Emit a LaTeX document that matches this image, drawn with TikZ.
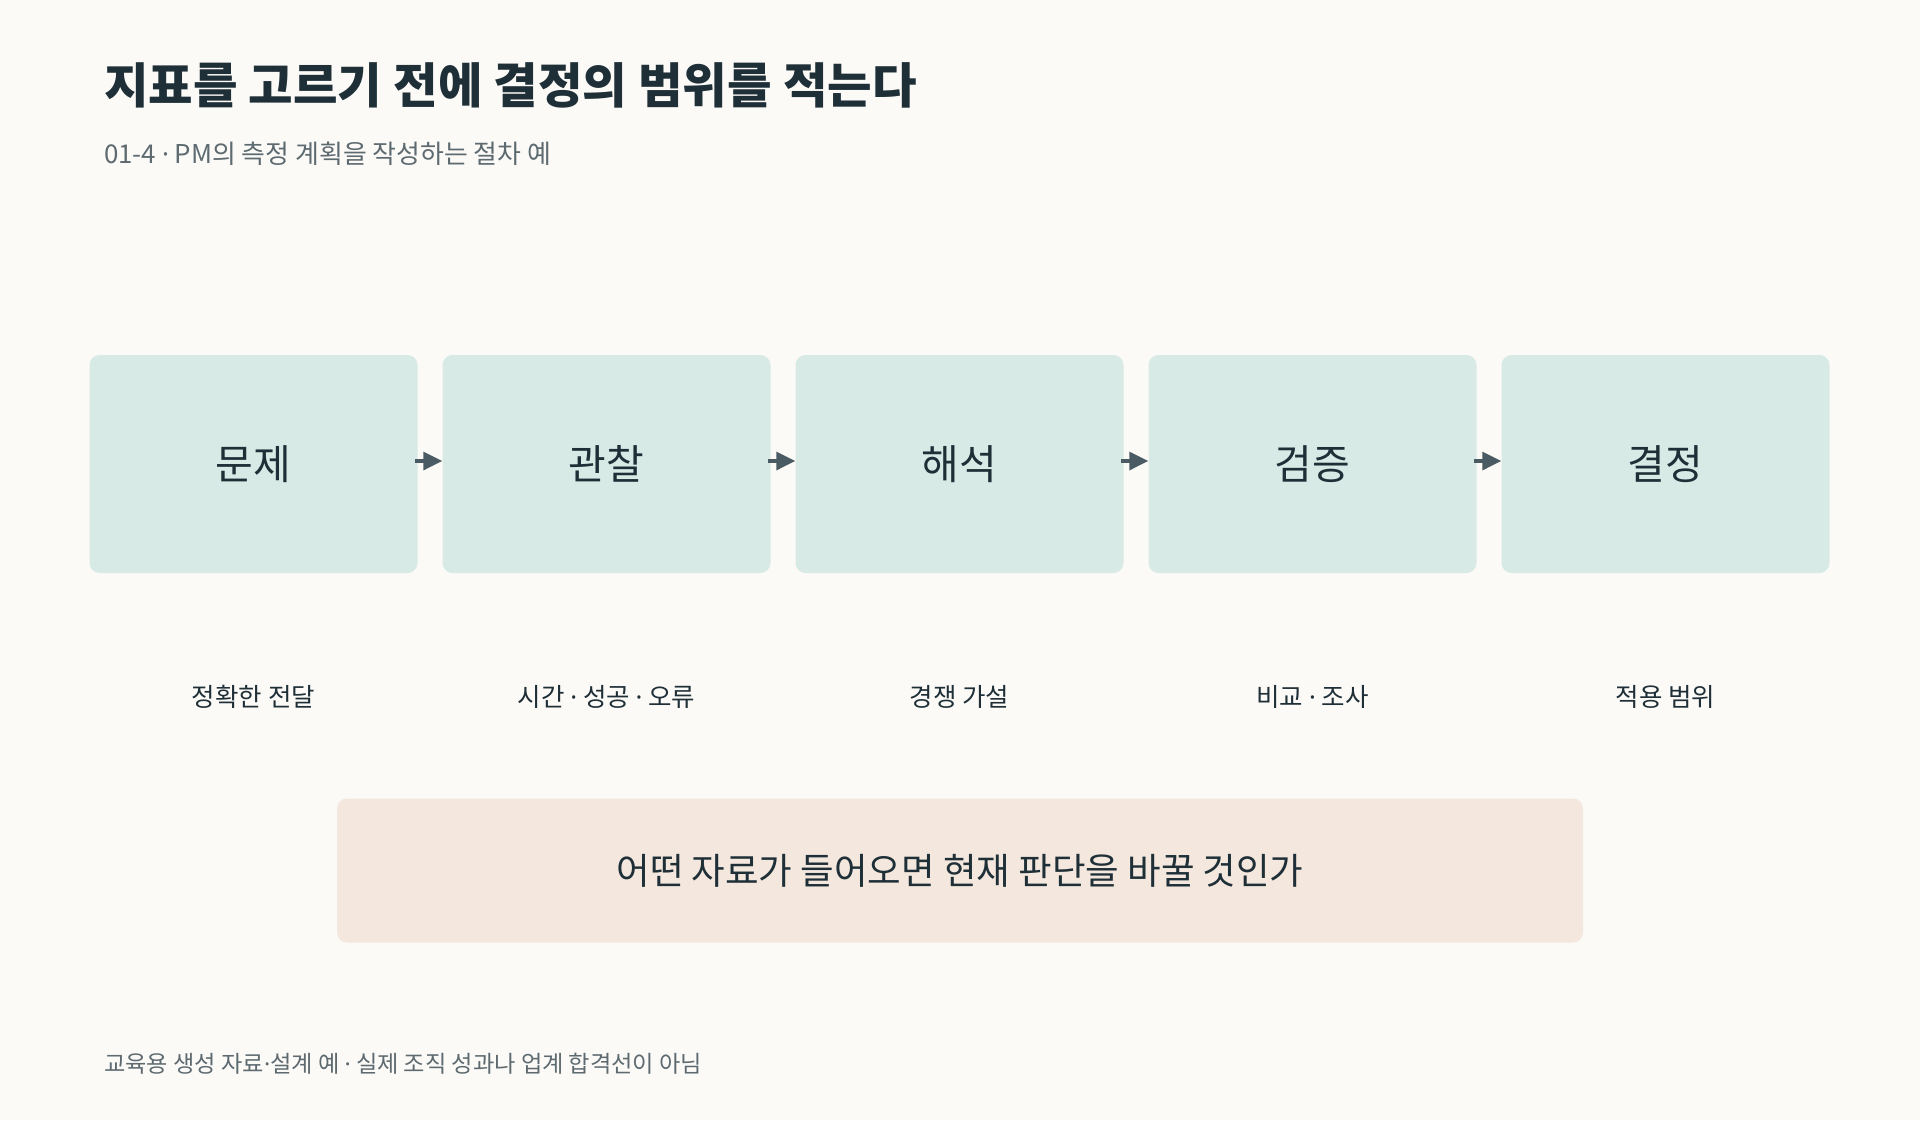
\documentclass[tikz,border=0pt]{standalone}
\usepackage{fontspec}
\setmainfont{Noto Sans CJK KR}
\newfontfamily\dotfont{Noto Sans}
\usepackage{tikz}
\usetikzlibrary{arrows.meta}

\definecolor{bgcol}{HTML}{FCFAF7}
\definecolor{stepfill}{HTML}{D8EAE6}
\definecolor{askfill}{HTML}{F4E7DD}
\definecolor{inkdark}{HTML}{1E2F37}
\definecolor{inkgray}{HTML}{5D6A70}
\definecolor{arrowgray}{HTML}{4B5B63}

\newcommand{\mdot}{{\dotfont ·}}

\tikzset{
	stepbox/.style={fill=stepfill, rounded corners=10pt, minimum width=328pt, minimum height=218pt, inner sep=0pt, text=inkdark, font=\fontsize{41}{46}\selectfont},
	steplabel/.style={inner sep=0pt, text=inkdark, font=\fontsize{25.5}{30}\selectfont},
	askbox/.style={fill=askfill, rounded corners=10pt, minimum width=1246pt, minimum height=144pt, inner sep=0pt, text=inkdark, font=\fontsize{36.5}{42}\selectfont},
	flow/.style={draw=arrowgray, line width=3.3pt, -{Triangle[length=19pt,width=18pt]}},
}

\begin{document}
\begin{tikzpicture}[x=1pt, y=-1pt]
				% Page
				\fill[bgcol] (0,0) rectangle (1920,1120);
				\useasboundingbox (0,0) rectangle (1920,1120);
				
				% Heading
				\node[anchor=west, inner sep=0pt, text=inkdark, font=\fontsize{48.4}{54}\selectfont\bfseries] (title) at (104,85) {지표를 고르기 전에 결정의 범위를 적는다};
				\node[anchor=west, inner sep=0pt, text=inkgray, font=\fontsize{25.9}{30}\selectfont] (subtitle) at (104,154) {01-4 \mdot{} PM의 측정 계획을 작성하는 절차 예};
				
				% Steps
				\node[stepbox] (problem) at (253.5,464) {\raisebox{3pt}{문제}};
				\node[stepbox] (observe) at (606.5,464) {\raisebox{3pt}{관찰}};
				\node[stepbox] (interpret) at (959.5,464) {\raisebox{3pt}{해석}};
				\node[stepbox] (verify) at (1312.5,464) {\raisebox{3pt}{검증}};
				\node[stepbox] (decide) at (1665.5,464) {\raisebox{3pt}{결정}};
				
				% Arrows
				\draw[flow] ([xshift=-2.5pt, yshift=3pt]problem.east) -- ([yshift=3pt]observe.west);
				\draw[flow] ([xshift=-2.5pt, yshift=3pt]observe.east) -- ([yshift=3pt]interpret.west);
				\draw[flow] ([xshift=-2.5pt, yshift=3pt]interpret.east) -- ([yshift=3pt]verify.west);
				\draw[flow] ([xshift=-2.5pt, yshift=3pt]verify.east) -- ([yshift=3pt]decide.west);
				
				% Labels under the steps
				\node[steplabel] (problemnote) at (253.5,696.5) {정확한 전달};
				\node[steplabel] (observenote) at (606.5,696.5) {시간 \mdot{} 성공 \mdot{} 오류};
				\node[steplabel] (interpretnote) at (959.5,696.5) {경쟁 가설};
				\node[steplabel] (verifynote) at (1312.5,696.5) {비교 \mdot{} 조사};
				\node[steplabel] (decidenote) at (1665.5,696.5) {적용 범위};
				
				% Question
				\node[askbox] (ask) at (960,870.5) {어떤 자료가 들어오면 현재 판단을 바꿀 것인가};
				
				% Footer
				\node[anchor=west, inner sep=0pt, text=inkgray, font=\fontsize{23.2}{28}\selectfont] (footer) at (104,1063.5) {교육용 생성 자료\mdot{}설계 예 \mdot{} 실제 조직 성과나 업계 합격선이 아님};
\end{tikzpicture}
\end{document}
